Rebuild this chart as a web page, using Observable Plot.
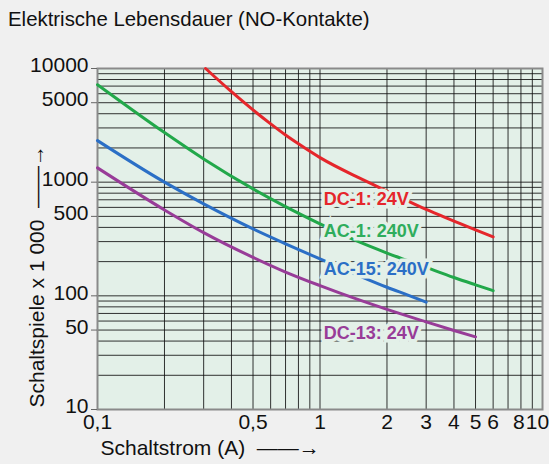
<!DOCTYPE html>
<html><head><meta charset="utf-8">
<script src="https://cdn.jsdelivr.net/npm/d3@7"></script>
<script src="https://cdn.jsdelivr.net/npm/@observablehq/plot@0.6"></script>
<style>
body{margin:0;background:#f0f0f0;font-family:"Liberation Sans",Arial,sans-serif;}
#title{height:34px;font-size:20.4px;line-height:1;padding:9px 0 0 8px;box-sizing:border-box;color:#111;white-space:nowrap}
</style></head><body>
<div id="title">Elektrische Lebensdauer (NO-Kontakte)</div>
<div id="chart"></div>
<script>
// DC-1: 24V
const dc1X = [0.306, 0.4, 0.5, 0.6, 0.7, 0.8, 1, 1.5, 2, 3, 4, 5, 6];
const dc1Y = [10000, 6250, 4320, 3260, 2600, 2175, 1645, 1090, 835, 575, 455, 380, 330];
// AC-1: 240V
const ac1X = [0.1, 0.2, 0.3, 0.5, 0.7, 1, 1.5, 2, 3, 4, 5, 6];
const ac1Y = [7200, 2730, 1600, 873, 610, 430, 298, 238, 178, 145, 125, 111];
// AC-15: 240V
const ac15X = [0.1, 0.2, 0.3, 0.5, 0.7, 1, 1.5, 2, 2.5, 3];
const ac15Y = [2320, 1000, 644, 388, 287, 211, 150, 119, 101, 88];
// DC-13: 24V
const dc13X = [0.1, 0.2, 0.3, 0.5, 0.7, 1, 1.5, 2, 3, 4, 5];
const dc13Y = [1336, 570, 360, 218, 162, 123, 92, 76, 59, 49.5, 43.5];

const seriesNames = ["DC-1: 24V", "AC-1: 240V", "AC-15: 240V", "DC-13: 24V"];
const seriesColors = ["#e5262b", "#22a84a", "#2b6fc6", "#983c98"];
const labelColors = ["#e5262b", "#2fad5c", "#2b6fc6", "#983c98"];
const labelX = [1.04, 1.04, 1.04, 1.04];
const labelY = [703, 368, 170, 46.6];

const xTicks = [0.1, 0.5, 1, 2, 3, 4, 5, 6, 8, 10];
const xTickLabels = ["0,1", "0,5", "1", "2", "3", "4", "5", "6", "8", "10"];
const yTicks = [10, 50, 100, 500, 1000, 5000, 10000];
const yTickLabels = ["10", "50", "100", "500", "1000", "5000", "10000"];
const xGrid = [0.1,0.2,0.3,0.4,0.5,0.6,0.7,0.8,0.9,1,2,3,4,5,6,7,8,9,10];
const yGrid = [10,20,30,40,50,60,70,80,90,100,200,300,400,500,600,700,800,900,1000,2000,3000,4000,5000,6000,7000,8000,9000,10000];

const xTitle = "Schaltstrom (A)  ——→";
const yTitle = "Schaltspiele x 1 000  ——→";

const seriesX = [dc1X, ac1X, ac15X, dc13X];
const seriesY = [dc1Y, ac1Y, ac15Y, dc13Y];
const rows = [];
seriesNames.forEach((n, i) => seriesX[i].forEach((x, j) => rows.push({series: n, x, y: seriesY[i][j]})));
const labels = seriesNames.map((n, i) => ({series: n, x: labelX[i], y: labelY[i], color: labelColors[i]}));
const xT = xTicks.map((v, i) => ({v, t: xTickLabels[i]}));
const yT = yTicks.map((v, i) => ({v, t: yTickLabels[i]}));

const bg = "#e3f0e8";
const tickFont = "'Liberation Sans Narrow', 'Arial Narrow', sans-serif";
const W = 549, ML = 97, MR = 7;
const xLab = {x: "v", text: "t", frameAnchor: "bottom", lineAnchor: "top", dy: 5, fontSize: 21, fontFamily: tickFont, fill: "#111"};
const chart = Plot.plot({
  width: W, height: 430,
  marginLeft: ML, marginRight: MR, marginTop: 34, marginBottom: 55,
  style: {background: "transparent", fontFamily: "'Liberation Sans', Arial, sans-serif", fontSize: "20px", color: "#111"},
  x: {type: "log", domain: [0.1, 10], axis: null},
  y: {type: "log", domain: [10, 10000], axis: null},
  color: {domain: seriesNames, range: seriesColors},
  marks: [
    Plot.frame({fill: bg}),
    Plot.ruleX(xGrid, {stroke: "#111", strokeWidth: 1, strokeOpacity: 0.85}),
    Plot.ruleY(yGrid, {stroke: "#111", strokeWidth: 1, strokeOpacity: 0.85}),
    Plot.frame({stroke: "#8a8a8a", strokeWidth: 2}),
    Plot.tickY(yT, {y: "v", stroke: "#666", strokeWidth: 1, insetLeft: -6, insetRight: W - ML - MR}),
    Plot.line(rows, {x: "x", y: "y", z: "series", stroke: "series", strokeWidth: 3, curve: "monotone-x"}),
    Plot.text(labels, {x: "x", y: "y", text: "series", fill: "color", textAnchor: "start", fontWeight: "bold", fontSize: 18, stroke: bg, strokeWidth: 7, strokeLinejoin: "miter"}),
    Plot.text(yT, {y: "v", text: "t", frameAnchor: "left", textAnchor: "end", dx: -9, dy: -3, fontSize: 21, fontFamily: tickFont, fill: "#111"}),
    Plot.text(xT.slice(0, -2), xLab),
    Plot.text(xT.slice(-2, -1), {...xLab, dx: -2}),
    Plot.text(xT.slice(-1), {...xLab, dx: -5}),
    Plot.text([xTitle], {frameAnchor: "bottom-left", text: d => d, textAnchor: "start", lineAnchor: "middle", dx: 3, dy: 39, fontSize: 21, fill: "#111"}),
    Plot.text([yTitle], {frameAnchor: "bottom-left", text: d => d, rotate: -90, textAnchor: "start", lineAnchor: "middle", dx: -60, dy: -2, fontSize: 21, fill: "#111"})
  ]
});
document.getElementById("chart").appendChild(chart);
</script>
</body></html>
